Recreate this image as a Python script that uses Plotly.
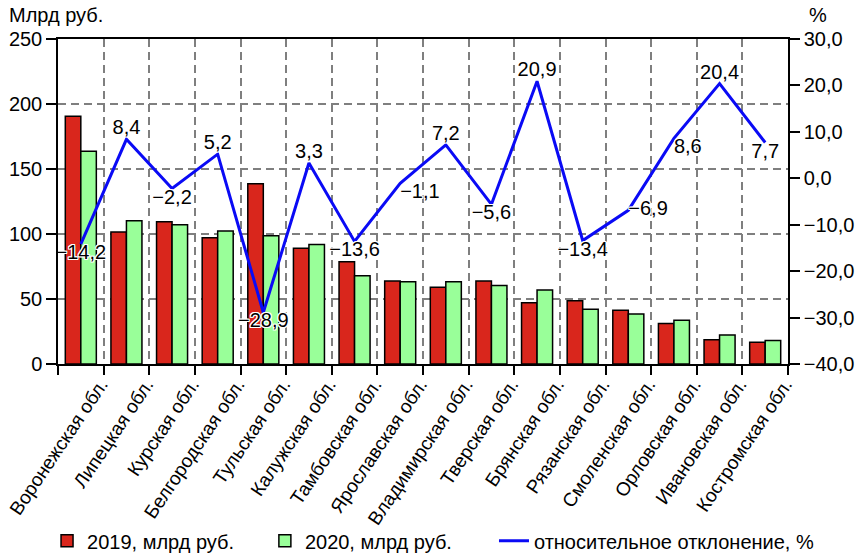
import plotly.graph_objects as go

regions = ["Воронежская обл.", "Липецкая обл.", "Курская обл.", "Белгородская обл.",
           "Тульская обл.", "Калужская обл.", "Тамбовская обл.", "Ярославская обл.",
           "Владимирская обл.", "Тверская обл.", "Брянская обл.", "Рязанская обл.",
           "Смоленская обл.", "Орловская обл.", "Ивановская обл.", "Костромская обл."]
values_2019 = [190.5, 101.5, 109.5, 97.2, 138.7, 89.0, 78.7, 63.8,
               59.0, 63.8, 47.2, 48.7, 41.3, 31.2, 18.7, 16.7]
values_2020 = [163.6, 110.2, 107.2, 102.3, 98.6, 91.9, 67.9, 63.2,
               63.3, 60.4, 57.0, 42.1, 38.5, 33.7, 22.4, 18.0]
deviation_pct = [-14.2, 8.4, -2.2, 5.2, -28.9, 3.3, -13.6, -1.1,
                 7.2, -5.6, 20.9, -13.4, -6.9, 8.6, 20.4, 7.7]
label_positions = ["bottom center", "top center", "bottom center", "top center",
                   "bottom center", "top center", "bottom center", "bottom right",
                   "top center", "bottom center", "top center", "bottom center",
                   "middle right", "bottom right", "top center", "bottom center"]

def fmt(v):
    s = f"{abs(v):.1f}".replace(".", ",")
    return ("\u2212" + s) if v < 0 else s

FONT = "Liberation Sans, Arial, sans-serif"
RED = "#D9261C"
GREEN = "#99FF99"
BLUE = "#0A0AF5"
GRID = "#7F7F7F"
HALO = ("1px 0 0 white, -1px 0 0 white, 0 1px 0 white, 0 -1px 0 white, "
        "1px 1px 0 white, -1px -1px 0 white, 1px -1px 0 white, -1px 1px 0 white")

fig = go.Figure()
fig.add_trace(go.Bar(x=regions, y=values_2019, name="2019, млрд руб.", legend="legend",
                     marker=dict(color=RED, line=dict(color="black", width=1.5))))
fig.add_trace(go.Bar(x=regions, y=values_2020, name="2020, млрд руб.", legend="legend2",
                     marker=dict(color=GREEN, line=dict(color="black", width=1.5))))
fig.add_trace(go.Scatter(x=regions, y=deviation_pct, yaxis="y2", mode="lines+text",
                         name="относительное отклонение, %", legend="legend3",
                         line=dict(color=BLUE, width=3),
                         text=[fmt(v) for v in deviation_pct],
                         textposition=label_positions,
                         textfont=dict(size=20, color="black", family=FONT, shadow=HALO),
                         cliponaxis=False))

legend_common = dict(orientation="h", xanchor="left", xref="container", yref="container",
                     y=0.024, yanchor="middle", font=dict(size=20), itemwidth=30,
                     bgcolor="rgba(0,0,0,0)")

fig.update_layout(
    width=860, height=554,
    margin=dict(l=58, r=72, t=39, b=190, autoexpand=False),
    paper_bgcolor="white", plot_bgcolor="white",
    font=dict(family=FONT, size=20, color="black"),
    separators=", ",
    barmode="group", bargap=0.32, bargroupgap=0,
    showlegend=True,
    legend=dict(x=0.0547, **legend_common),
    legend2=dict(x=0.308, **legend_common),
    legend3=dict(x=0.5744, **legend_common),
    xaxis=dict(type="category", range=[-0.5, len(regions) - 0.5],
               tickson="boundaries", showgrid=True,
               gridcolor=GRID, griddash="8px,5px", gridwidth=1.5,
               ticks="outside", ticklen=9, tickwidth=1.5, tickcolor="black",
               showline=True, linecolor="black", linewidth=1.5, mirror=True,
               tickangle=-56, tickfont=dict(size=19), ticklabelshift=20,
               automargin=False),
    yaxis=dict(range=[0, 250], dtick=50, showgrid=True, gridcolor=GRID,
               griddash="8px,5px", gridwidth=1.5, zeroline=False,
               ticks="outside", ticklen=10, tickwidth=1.5, tickcolor="black",
               showline=True, linecolor="black", linewidth=1.5,
               tickfont=dict(size=20), automargin=False),
    yaxis2=dict(range=[-40, 30], dtick=10, tickformat=".1f", overlaying="y",
                side="right", showgrid=False, zeroline=False,
                ticks="outside", ticklen=10, tickwidth=1.5, tickcolor="black",
                showline=True, linecolor="black", linewidth=1.5,
                tickfont=dict(size=20), automargin=False),
    annotations=[
        dict(text="Млрд руб.", xref="paper", yref="paper", x=-0.07, y=1.074,
             xanchor="left", yanchor="middle", showarrow=False, font=dict(size=20)),
        dict(text="%", xref="paper", yref="paper", x=1.026, y=1.074,
             xanchor="left", yanchor="middle", showarrow=False, font=dict(size=20)),
    ],
)

fig.write_html("out.html", config={"displayModeBar": False},
               post_script="document.body.style.margin='0';")
